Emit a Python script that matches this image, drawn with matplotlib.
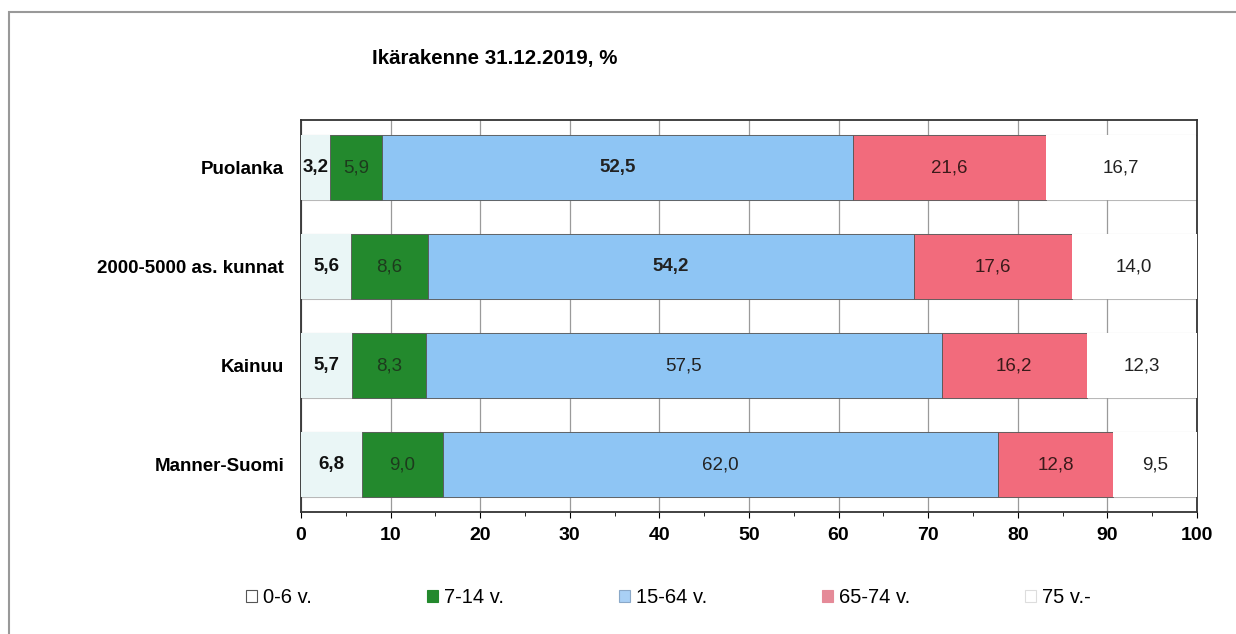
import numpy as np
import matplotlib.pyplot as plt
from matplotlib.patches import Rectangle

plt.rcParams['font.family'] = ['Liberation Sans', 'DejaVu Sans']

# ikäryhmät ja alueet
groups = ['0-6 v.', '7-14 v.', '15-64 v.', '65-74 v.', '75 v.-']
areas = ['Puolanka', '2000-5000 as. kunnat', 'Kainuu', 'Manner-Suomi']

age_0_6 = [3.2, 5.6, 5.7, 6.8]
age_7_14 = [5.9, 8.6, 8.3, 9.0]
age_15_64 = [52.5, 54.2, 57.5, 62.0]
age_65_74 = [21.6, 17.6, 16.2, 12.8]
age_75 = [16.7, 14.0, 12.3, 9.5]

colors = ['#eaf6f6', '#23892d', '#8ec5f4', '#f26b7c', '#ffffff']
text_colors = ['#111111', '#1d3b1d', '#222222', '#3a1a1a', '#222222']
bold = [True, False, True, False, False]

fig = plt.figure(figsize=(12.36, 6.34), dpi=100)
ax = fig.add_axes([0.2435, 0.1924, 0.7249, 0.6183])

y = np.arange(len(areas))
h = 0.66
series = [age_0_6, age_7_14, age_15_64, age_65_74, age_75]
left = np.zeros(len(areas))
for i, vals in enumerate(series):
    vals = np.array(vals)
    ax.barh(y, vals, left=left, height=h, color=colors[i],
            edgecolor='#555555' if i in (1, 2, 3) else 'none',
            linewidth=0.6, zorder=3)
    for j, v in enumerate(vals):
        ax.text(left[j] + v / 2, y[j], f'{v:.1f}'.replace('.', ','),
                ha='center', va='center', fontsize=13.5,
                color=text_colors[i],
                fontweight='bold' if (bold[i] and j < 2) or i == 0 else 'normal',
                zorder=4)
    left += vals

# ruudukko
for j in y:
    for e in (j - h / 2, j + h / 2):
        ax.axhline(e, color='#b8b8b8', linewidth=0.8, zorder=1)
ax.set_xticks(np.arange(0, 101, 10))
ax.set_xticks(np.arange(5, 100, 10), minor=True)
ax.grid(axis='x', which='major', color='#9a9a9a', linewidth=0.9, zorder=1)
ax.set_xlim(0, 100)
ax.set_ylim(3.48, -0.48)
ax.set_yticks(y)
ax.set_yticklabels(areas, fontweight='bold', fontsize=13.5)
ax.tick_params(axis='y', length=0, pad=12)
ax.tick_params(axis='x', which='major', length=4, labelsize=14, pad=7)
ax.tick_params(axis='x', which='minor', length=3)
for lbl in ax.get_xticklabels():
    lbl.set_fontweight('bold')
for s in ax.spines.values():
    s.set_color('#333333')
    s.set_linewidth(1.3)

fig.text(0.301, 0.907, 'Ikärakenne 31.12.2019, %', fontsize=14.8,
         fontweight='bold', va='center')

leg_colors = ['#ffffff', '#23892d', '#a9d0f5', '#e58a98', '#ffffff']
leg_edges = ['#555555', '#23892d', '#8aa8c8', '#e58a98', '#dddddd']
leg_handles = [Rectangle((0, 0), 1, 1, facecolor=c, edgecolor=ec, linewidth=0.8)
               for c, ec in zip(leg_colors, leg_edges)]
fig.legend(leg_handles, groups, loc='center', ncol=5,
           bbox_to_anchor=(0.541, 0.058), frameon=False,
           handlelength=0.55, handleheight=0.55, handletextpad=0.3,
           columnspacing=5.7, fontsize=14.5)

# skannatun kuvan reunaviiva
fig.add_artist(Rectangle((0.0075, -0.1), 1.2, 1.081, transform=fig.transFigure,
                         fill=False, edgecolor='#999999', linewidth=1.5))

fig.savefig('out.png', dpi=100)
